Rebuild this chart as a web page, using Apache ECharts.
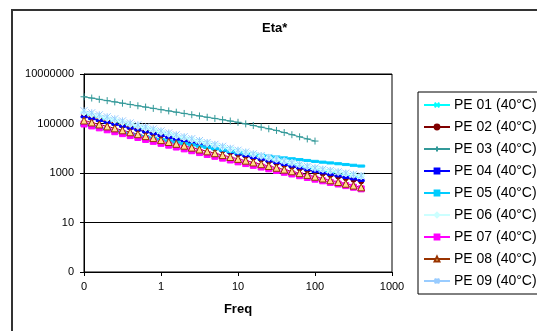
<!DOCTYPE html>
<html>
<head>
<meta charset="utf-8">
<script src="https://cdn.jsdelivr.net/npm/echarts@6/dist/echarts.min.js"></script>
<style>
  html, body { margin: 0; padding: 0; background: #fff; }
  #chart { width: 537px; height: 331px; }
</style>
</head>
<body>
<div id="chart"></div>
<script>
// frequency points (10 per decade)
const freq = [0.1, 0.126, 0.158, 0.2, 0.251, 0.316, 0.398, 0.501, 0.631, 0.794,
  1, 1.26, 1.58, 2, 2.51, 3.16, 3.98, 5.01, 6.31, 7.94,
  10, 12.6, 15.8, 20, 25.1, 31.6, 39.8, 50.1, 63.1, 79.4,
  100, 126, 158, 200, 251, 316, 398];

const pe01 = [240000, 200000, 167000, 140000, 117000, 97600, 81500, 68200, 56900, 47600,
  39600, 33200, 28000, 23500, 19700, 16600, 13900, 11700, 9790, 8220,
  6900, 5870, 4990, 4260, 3620, 3090, 2620, 2240, 1900, 1620,
  1390, 1220, 1080, 949, 836, 737, 646];
const pe02 = [200000, 166800, 139400, 116400, 97400, 81300, 67900, 56800, 47400, 39700,
  33000, 27700, 23300, 19600, 16400, 13800, 11600, 9720, 8160, 6850,
  5750, 4870, 4120, 3500, 2960, 2510, 2120, 1800, 1520, 1290,
  1100, 949, 821, 711, 615, 532, 458];
const pe03 = [1200000, 1067000, 946000, 839000, 745000, 661000, 586000, 520000, 461000, 409000,
  363000, 323000, 287000, 255000, 227000, 202000, 179000, 160000, 142000, 126000,
  112000, 96400, 82800, 71100, 61100, 52500, 43100, 35300, 29000, 23800,
  19500];
const pe04 = [186000, 155800, 130800, 109800, 92200, 77300, 64800, 54500, 45600, 38400,
  32100, 27000, 22800, 19300, 16200, 13700, 11600, 9730, 8200, 6910,
  5820, 4960, 4210, 3590, 3050, 2600, 2200, 1880, 1590, 1360,
  1160, 1005, 873, 759, 659, 572, 495];
const pe05 = [89100, 77600, 67600, 58900, 51300, 44700, 38900, 33900, 29500, 25700,
  22400, 19800, 17500, 15500, 13700, 12200, 10800, 9530, 8430, 7460,
  6610, 6100, 5620, 5190, 4790, 4420, 4070, 3760, 3470, 3200,
  2950, 2740, 2550, 2370, 2200, 2050, 1910];
const pe06 = [281000, 234000, 195000, 163000, 136000, 113000, 94400, 78800, 65700, 54800,
  45500, 38200, 32200, 27000, 22700, 19100, 16000, 13500, 11300, 9450,
  7940, 6750, 5740, 4900, 4160, 3550, 3010, 2580, 2190, 1860,
  1600, 1400, 1240, 1090, 961, 848, 743];
const pe07 = [95500, 79800, 66700, 55700, 46600, 38900, 32500, 27200, 22700, 19000,
  15800, 13300, 11200, 9440, 7940, 6680, 5620, 4730, 3980, 3350,
  2820, 2400, 2040, 1740, 1480, 1260, 1070, 912, 776, 661,
  562, 484, 417, 359, 309, 266, 229];
const pe08 = [132000, 110000, 91600, 76400, 63700, 53100, 44300, 37000, 30800, 25700,
  21300, 17900, 15100, 12700, 10600, 8920, 7490, 6290, 5280, 4430,
  3720, 3150, 2670, 2270, 1920, 1630, 1370, 1170, 987, 837,
  708, 600, 509, 431, 368, 311, 263];
const pe09 = [329000, 272000, 225000, 187000, 155000, 128000, 106000, 88300, 73200, 60700,
  50100, 41800, 35100, 29300, 24500, 20500, 17100, 14400, 12000, 9970,
  8340, 7050, 5970, 5070, 4280, 3640, 3070, 2620, 2210, 1870,
  1600, 1410, 1260, 1120, 993, 883, 780];

const seriesNames = ['PE 01 (40°C)', 'PE 02 (40°C)', 'PE 03 (40°C)', 'PE 04 (40°C)', 'PE 05 (40°C)',
  'PE 06 (40°C)', 'PE 07 (40°C)', 'PE 08 (40°C)', 'PE 09 (40°C)'];
const seriesValues = [pe01, pe02, pe03, pe04, pe05, pe06, pe07, pe08, pe09];

const X_MARK = 'path://M0,0L10,10M10,0L0,10';
const PLUS_MARK = 'path://M5,0L5,10M0,5L10,5';
const STAR_MARK = 'path://M0,0L10,10M10,0L0,10M5,0L5,10';
const DASH_MARK = 'path://M0,0L10,0L10,3L0,3Z';

const styles = [
  { line: '#00FFFF', fill: 'none', border: '#00FFFF', symbol: X_MARK, size: 6 },
  { line: '#800000', fill: '#800000', border: '#800000', symbol: 'circle', size: 5 },
  { line: '#339999', fill: 'none', border: '#339999', symbol: PLUS_MARK, size: 7 },
  { line: '#0000FF', fill: '#0000FF', border: '#0000FF', symbol: DASH_MARK, size: 6 },
  { line: '#00CCFF', fill: '#00CCFF', border: '#00CCFF', symbol: DASH_MARK, size: 7 },
  { line: '#CCFFFF', fill: '#CCFFFF', border: '#CCFFFF', symbol: 'diamond', size: 7 },
  { line: '#FF00FF', fill: '#FF00FF', border: '#FF00FF', symbol: 'rect', size: 6 },
  { line: '#993300', fill: '#FFE08A', border: '#993300', symbol: 'triangle', size: 7 },
  { line: '#99CCFF', fill: 'none', border: '#99CCFF', symbol: STAR_MARK, size: 7 },
];

const font = 'Liberation Sans, Arial, sans-serif';

const chart = echarts.init(document.getElementById('chart'));

const option = {
  backgroundColor: '#fff',
  animation: false,
  title: {
    text: 'Eta*',
    left: 262,
    top: 22,
    padding: 0,
    textStyle: { fontFamily: font, fontSize: 13, fontWeight: 'bold', color: '#000' },
  },
  graphic: [
    {
      type: 'rect',
      shape: { x: 12, y: 10, width: 600, height: 400 },
      style: { fill: 'none', stroke: '#333', lineWidth: 2 },
      silent: true,
    },
  ],
  legend: {
    orient: 'vertical',
    left: 418,
    top: 92,
    padding: [6, 6, 6, 5],
    itemWidth: 26,
    itemHeight: 6,
    itemGap: 8,
    borderColor: '#000',
    borderWidth: 1,
    borderRadius: 0,
    textStyle: { fontFamily: font, fontSize: 14, color: '#000', padding: [0, 0, 0, -1], lineHeight: 14 },
    data: seriesNames,
  },
  grid: {
    left: 84,
    top: 74,
    width: 308,
    height: 198,
    show: true,
    borderColor: '#000',
    borderWidth: 1,
    backgroundColor: '#fff',
  },
  xAxis: {
    type: 'log',
    logBase: 10,
    min: 0.1,
    max: 1000,
    name: 'Freq',
    nameLocation: 'middle',
    nameGap: 31,
    nameTextStyle: { fontFamily: font, fontSize: 13, fontWeight: 'bold', color: '#000' },
    axisLine: { lineStyle: { color: '#000', width: 1 } },
    axisTick: { show: true, inside: false, length: 4, lineStyle: { color: '#000' } },
    axisLabel: {
      fontFamily: font, fontSize: 11, color: '#000', margin: 9,
      formatter: v => (v < 1 ? '0' : String(Math.round(v))),
    },
    splitLine: { show: false },
    minorTick: { show: false },
  },
  yAxis: {
    type: 'log',
    logBase: 10,
    min: 0.1,
    max: 10000000,
    interval: 2,
    axisLine: { show: true, lineStyle: { color: '#000', width: 1 } },
    axisTick: { show: true, inside: false, length: 4, lineStyle: { color: '#000' } },
    axisLabel: {
      fontFamily: font, fontSize: 11, color: '#000', margin: 10,
      formatter: v => (v < 1 ? '0' : String(Math.round(v))),
    },
    splitLine: { show: true, lineStyle: { color: '#000', width: 1 } },
  },
  series: seriesNames.map((name, i) => ({
    name,
    type: 'line',
    data: seriesValues[i].map((v, j) => [freq[j], v]),
    symbol: styles[i].symbol,
    symbolSize: styles[i].size,
    symbolKeepAspect: true,
    showSymbol: true,
    showAllSymbol: true,
    lineStyle: { color: styles[i].line, width: 1 },
    itemStyle: {
      color: styles[i].fill === 'none' ? 'rgba(0,0,0,0)' : styles[i].fill,
      borderColor: styles[i].border,
      borderWidth: 1,
    },
    emphasis: { disabled: true },
  })),
};

chart.setOption(option);
</script>
</body>
</html>
